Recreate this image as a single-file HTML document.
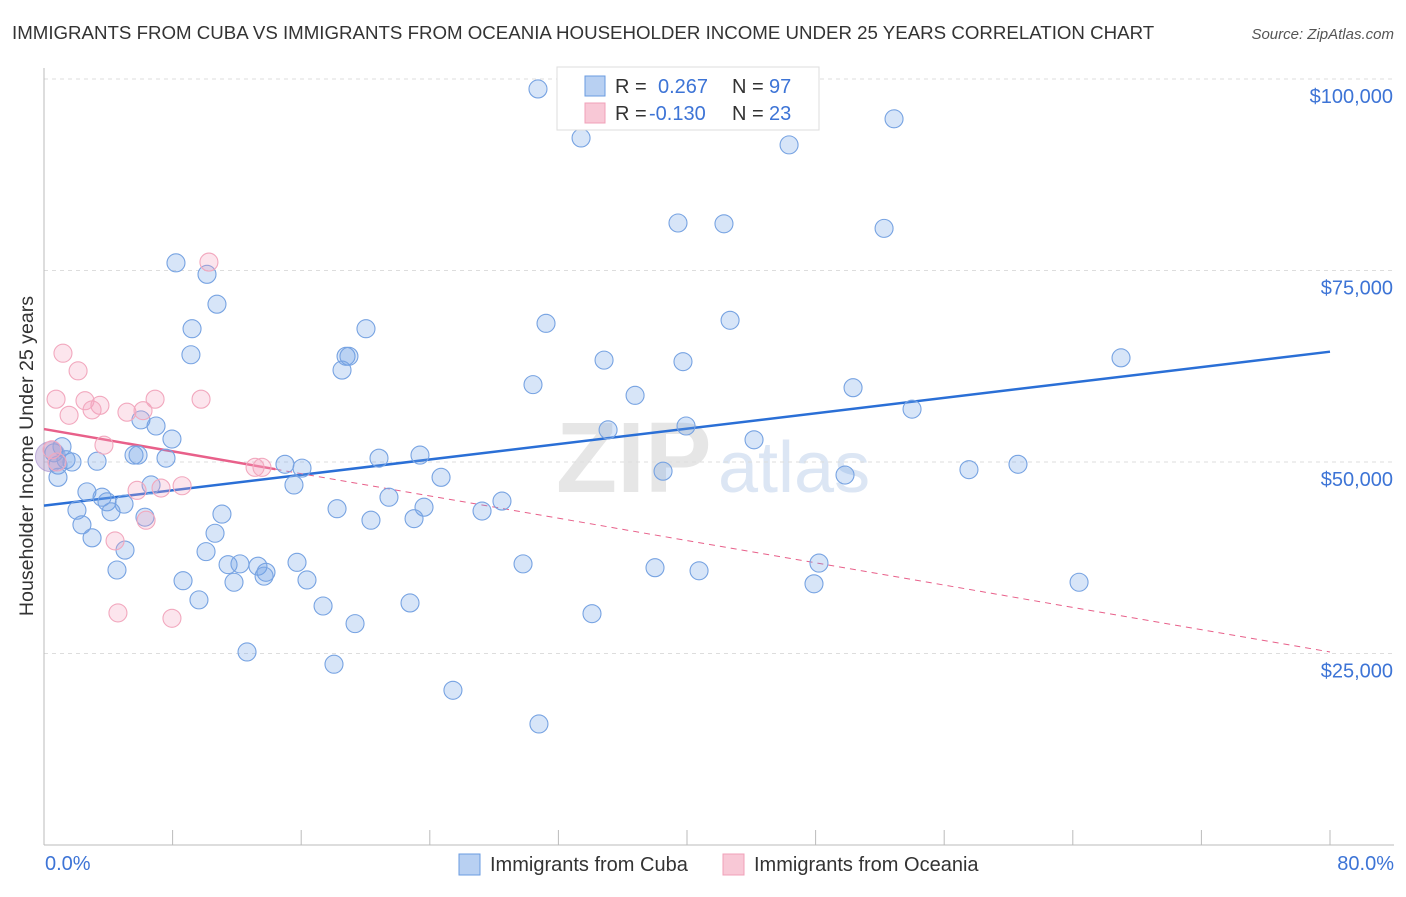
<!DOCTYPE html>
<html><head><meta charset="utf-8">
<style>
body{margin:0;background:#fff;font-family:"Liberation Sans",sans-serif;}
svg text{font-family:"Liberation Sans",sans-serif;}
</style></head>
<body>
<svg id="chart" width="1406" height="892" xmlns="http://www.w3.org/2000/svg">
<text x="12" y="39" font-size="18.7" fill="#333">IMMIGRANTS FROM CUBA VS IMMIGRANTS FROM OCEANIA HOUSEHOLDER INCOME UNDER 25 YEARS CORRELATION CHART</text>
<text x="1394" y="39" font-size="15" fill="#555" font-style="italic" text-anchor="end">Source: ZipAtlas.com</text>
<text x="556" y="492" font-size="100" fill="#e6e6e6" font-family="Liberation Serif" font-weight="bold">ZIP</text>
<text x="718" y="492" font-size="72" fill="#dce6f4">atlas</text>
<g id="grid"></g>
<g id="axes"></g>
<g id="trends"></g>
<g id="points"></g>
<text transform="translate(33,456) rotate(-90)" font-size="19.6" fill="#333" text-anchor="middle">Householder Income Under 25 years</text>
<g>
<rect x="557" y="67" width="262" height="63" fill="#fff" stroke="#ddd"/>
<rect x="585" y="76" width="20" height="20" fill="#b8d0f2" stroke="#6a9be0"/>
<rect x="585" y="103" width="20" height="20" fill="#f8c8d6" stroke="#f0a0b8"/>
<text x="615" y="93" font-size="20" fill="#333">R = </text><text x="658" y="93" font-size="20" fill="#3d74d6">0.267</text>
<text x="732" y="93" font-size="20" fill="#333">N = </text><text x="769" y="93" font-size="20" fill="#3d74d6">97</text>
<text x="615" y="120" font-size="20" fill="#333">R = </text><text x="649" y="120" font-size="20" fill="#3d74d6">-0.130</text>
<text x="732" y="120" font-size="20" fill="#333">N = </text><text x="769" y="120" font-size="20" fill="#3d74d6">23</text>
</g>
<g>
<rect x="459" y="854" width="21" height="21" fill="#b8d0f2" stroke="#6a9be0"/>
<text x="490" y="871" font-size="20" fill="#333">Immigrants from Cuba</text>
<rect x="723" y="854" width="21" height="21" fill="#f8c8d6" stroke="#f0a0b8"/>
<text x="754" y="871" font-size="20" fill="#333">Immigrants from Oceania</text>
</g>
</svg>
<script>
const xTickLabels=["0.0%","80.0%"];
const yTicks=[25000,50000,75000,100000];
const yTickLabels=["$25,000","$50,000","$75,000","$100,000"];
const cubaX=[30.73,33.41,46.35,52.88,39.44,42.30,52.26,8.21,10.14,10.76,9.21,20.03,31.23,42.68,9.14,18.79,18.97,18.54,34.84,39.75,67.0,30.42,36.77,50.33,54.0,6.03,6.97,7.96,35.09,39.94,44.17,1.12,0.62,5.60,5.85,7.59,3.30,1.74,1.37,0.87,20.84,23.39,14.99,16.05,38.51,49.83,57.54,60.59,0.87,24.70,15.55,6.66,2.67,3.61,3.92,4.98,21.46,28.49,2.05,4.17,11.07,18.23,23.64,27.25,6.28,20.34,23.02,2.36,10.64,2.99,5.04,10.08,15.74,11.45,12.19,13.31,13.81,13.69,29.80,38.01,40.75,48.21,4.54,8.65,11.82,16.36,47.90,64.39,9.64,17.36,22.77,34.09,19.35,12.63,18.04,25.44,30.79];
const cubaY=[98.7,92.3,91.4,94.8,81.2,81.1,80.5,76.0,74.5,70.6,67.4,67.4,68.1,68.5,64.0,63.8,63.8,62.0,63.3,63.1,63.6,60.1,58.7,59.7,56.9,55.5,54.7,53.0,54.2,54.7,52.9,52.0,51.2,50.9,50.9,50.5,50.1,50.0,50.3,49.6,50.5,50.9,49.7,49.2,48.8,48.3,49.0,49.7,48.0,48.0,47.0,47.0,46.1,45.4,44.8,44.5,45.4,44.9,43.7,43.5,43.2,43.9,44.1,43.6,42.8,42.4,42.6,41.8,40.7,40.1,38.5,38.3,36.9,36.6,36.7,36.4,35.6,35.1,36.7,36.2,35.8,36.8,35.9,34.5,34.3,34.6,34.1,34.3,32.0,31.2,31.6,30.2,28.9,25.2,23.6,20.2,15.8];
const oceX=[10.26,1.18,2.12,0.75,2.55,3.48,1.56,2.99,5.16,6.16,6.91,9.77,3.73,0.50,0.81,13.13,13.56,5.79,7.28,8.59,6.35,4.42,4.60,7.96];
const oceY=[76.1,64.2,61.9,58.2,58.0,57.4,56.1,56.8,56.5,56.7,58.2,58.2,52.2,51.6,50.0,49.3,49.3,46.3,46.6,46.9,42.4,39.7,30.3,29.6];
const cubaTrend=[44.3,64.4];
const oceTrend=[54.3,25.2];
const oceSolidEnd=14.4;

const NS="http://www.w3.org/2000/svg";
const X=v=>44+v/80*1286;
const Y=v=>845-v/100*766;
function mk(tag,attrs,parent){const e=document.createElementNS(NS,tag);for(const k in attrs)e.setAttribute(k,attrs[k]);document.getElementById(parent).appendChild(e);return e;}

yTicks.forEach((t,i)=>{
 const g=mk('line',{x1:44,x2:1394,y1:Y(t/1000),y2:Y(t/1000),stroke:'#ddd','stroke-dasharray':'4,4'},'grid');
 
 
 const l=mk('text',{x:1393,y:Y(t/1000)+24,'font-size':20,fill:'#3d74d6','text-anchor':'end'},'grid');
 l.textContent=yTickLabels[i];
 
 
});
const ax=mk('line',{x1:44,x2:44,y1:68,y2:845,stroke:'#bbb'},'axes');


const bx=mk('line',{x1:44,x2:1394,y1:845,y2:845,stroke:'#bbb'},'axes');


for(let i=0;i<=10;i++){
 const t=mk('line',{x1:X(i*8),x2:X(i*8),y1:830,y2:845,stroke:'#bbb'},'axes');
 
 
}
[[0,'start',45],[80,'end',1394]].forEach((p,i)=>{
 const t=mk('text',{x:p[2],y:870,'font-size':20,fill:'#3d74d6','text-anchor':p[1]},'axes');
 t.textContent=xTickLabels[i];
 
 
});

const big=mk('circle',{cx:X(0.4),cy:Y(50.7),r:15,fill:'rgba(150,120,190,0.35)',stroke:'rgba(150,120,200,0.5)'},'points');


cubaX.forEach((v,i)=>{
 const c=mk('circle',{cx:X(v),cy:Y(cubaY[i]),r:9,fill:'rgba(110,160,230,0.28)',stroke:'#77a3e2','stroke-width':1.1},'points');
 
 
});
oceX.forEach((v,i)=>{
 const c=mk('circle',{cx:X(v),cy:Y(oceY[i]),r:9,fill:'rgba(245,160,190,0.28)',stroke:'#f2a8be','stroke-width':1.1},'points');
 
 
});
const tb=mk('line',{x1:X(0),y1:Y(cubaTrend[0]),x2:X(80),y2:Y(cubaTrend[1]),stroke:'#2a6fd6','stroke-width':2.5},'trends');


const oy=x=>oceTrend[0]+(oceTrend[1]-oceTrend[0])*x/80;
const tp=mk('line',{x1:X(0),y1:Y(oy(0)),x2:X(oceSolidEnd),y2:Y(oy(oceSolidEnd)),stroke:'#e8608a','stroke-width':2.5},'trends');


const td=mk('line',{x1:X(oceSolidEnd),y1:Y(oy(oceSolidEnd)),x2:X(80),y2:Y(oy(80)),stroke:'#e8608a','stroke-width':1,'stroke-dasharray':'6,5'},'trends');


</script>
</body></html>
